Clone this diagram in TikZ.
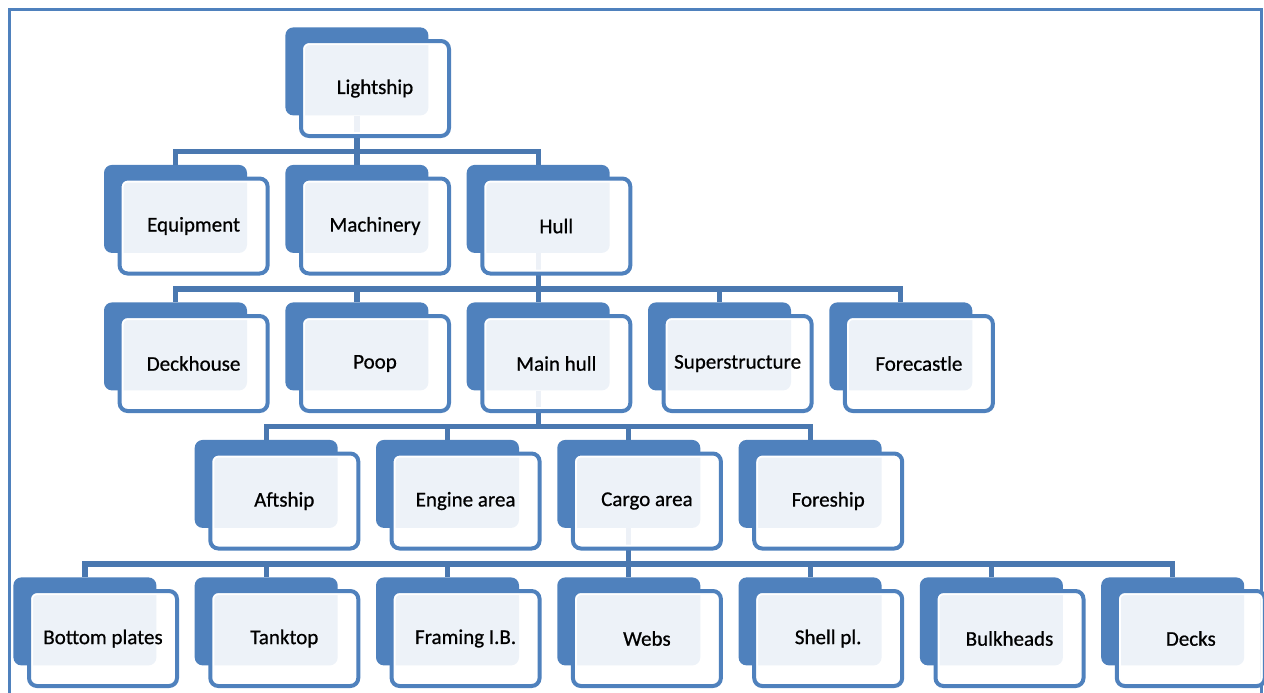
\documentclass[tikz,border=0pt]{standalone}
\usepackage{fontspec}
\setmainfont{Carlito}
\newfontfamily\boxfont{Carlito}[FakeBold=0.7]
\usetikzlibrary{calc,backgrounds}
\definecolor{boxblue}{HTML}{4F81BD}
\definecolor{linkblue}{HTML}{4A78B0}

\begin{document}
\begin{tikzpicture}[x=0.5pt,y=-0.5pt]
\tikzset{bk/.style={rectangle,rounded corners=4pt,fill=boxblue,anchor=north west,
    inner sep=0pt,minimum width=71.5pt,minimum height=44pt},
  fr/.style={rectangle,rounded corners=4pt,draw=boxblue,line width=2pt,
    fill=white,fill opacity=0.9,text opacity=1,text=black,
    anchor=north west,xshift=7pt,yshift=-6pt,inner sep=0pt,
    minimum width=74pt,minimum height=47.5pt,font=\boxfont\fontsize{10.5}{12}\selectfont,
    path picture={\draw[white,line width=4pt,rounded corners=4pt]
      (path picture bounding box.south west) rectangle (path picture bounding box.north east);}},
  link/.style={draw=linkblue,line width=2.6pt}}

\useasboundingbox (0,0) rectangle (1264,692);
\draw[boxblue,line width=1.8pt] (9.5,700) |- (1261.5,9.5) -- (1261.5,700);

% level 0
\path (285,27) node[bk] (lsb) {};
\path (lsb.north west) node[fr] (ls) {Lightship};

% level 1
\path (103.6,164.5) node[bk] (eqb) {};
\path (eqb.north west) node[fr] (eq) {Equipment};
\path (285,164.5) node[bk] (mab) {};
\path (mab.north west) node[fr] (ma) {Machinery};
\path (466.3,164.5) node[bk] (hub) {};
\path (hub.north west) node[fr] (hu) {Hull};

% level 2
\path (103.6,302) node[bk] (dhb) {};
\path (dhb.north west) node[fr] (dh) {Deckhouse};
\path (285,302) node[bk] (pob) {};
\path (pob.north west) node[fr] (po) {Poop};
\path (466.3,302) node[bk] (mhb) {};
\path (mhb.north west) node[fr] (mh) {Main hull};
\path (647.6,302) node[bk] (ssb) {};
\path (ssb.north west) node[fr] (ss) {Superstructure};
\path (828.9,302) node[bk] (fcb) {};
\path (fcb.north west) node[fr] (fc) {Forecastle};

% level 3
\path (194.3,439.5) node[bk] (asb) {};
\path (asb.north west) node[fr] (as) {Aftship};
\path (375.6,439.5) node[bk] (eab) {};
\path (eab.north west) node[fr] (ea) {Engine area};
\path (556.9,439.5) node[bk] (cab) {};
\path (cab.north west) node[fr] (ca) {Cargo area};
\path (738.2,439.5) node[bk] (fsb) {};
\path (fsb.north west) node[fr] (fs) {Foreship};

% level 4
\path (13,577) node[bk] (bpb) {};
\path (bpb.north west) node[fr] (bp) {Bottom plates};
\path (194.3,577) node[bk] (ttb) {};
\path (ttb.north west) node[fr] (tt) {Tanktop};
\path (375.6,577) node[bk] (fib) {};
\path (fib.north west) node[fr] (fi) {Framing I.B.};
\path (556.9,577) node[bk] (web) {};
\path (web.north west) node[fr] (we) {Webs};
\path (738.2,577) node[bk] (spb) {};
\path (spb.north west) node[fr] (sp) {Shell pl.};
\path (919.5,577) node[bk] (bhb) {};
\path (bhb.north west) node[fr] (bh) {Bulkheads};
\path (1100.8,577) node[bk] (dkb) {};
\path (dkb.north west) node[fr] (dk) {Decks};

\begin{pgfonlayer}{background}
\foreach \c in {eqb,mab,hub}
  \draw[link] (lsb.south) |- ($(\c.north)+(0,-13)$) -- (\c.north);
\foreach \c in {dhb,pob,mhb,ssb,fcb}
  \draw[link] (hub.south) |- ($(\c.north)+(0,-13)$) -- (\c.north);
\foreach \c in {asb,eab,cab,fsb}
  \draw[link] (mhb.south) |- ($(\c.north)+(0,-13)$) -- (\c.north);
\foreach \c in {bpb,ttb,fib,web,spb,bhb,dkb}
  \draw[link] (cab.south) |- ($(\c.north)+(0,-13)$) -- (\c.north);
\end{pgfonlayer}
\end{tikzpicture}
\end{document}
